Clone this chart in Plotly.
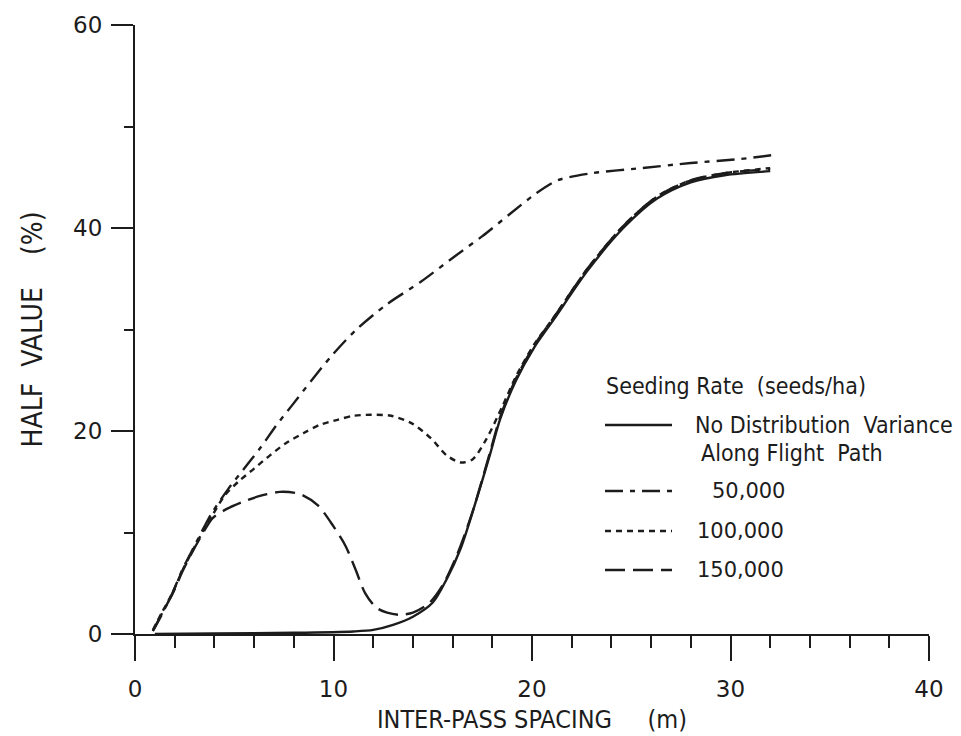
import plotly.graph_objects as go

# ---- data ----
x_novar = [1, 4, 8, 11, 12, 13, 14, 15, 15.7, 16.4, 17.1, 17.9, 18.4, 19.2, 20.1, 21.1, 22.8, 24.6, 26.3, 28.0, 29.7, 32.0]
y_novar = [0.0, 0.05, 0.12, 0.25, 0.4, 0.9, 1.7, 3.1, 5.4, 8.4, 12.6, 17.8, 21.2, 25.0, 28.2, 31.0, 35.8, 40.0, 42.9, 44.5, 45.2, 45.6]

x_50k = [0.9, 1.4, 1.9, 2.4, 2.95, 3.5, 3.9, 4.7, 5.5, 6.3, 7.1, 7.9, 8.9, 9.9, 11.1, 12.7, 14.4, 16.1, 17.5, 18.9, 20.2, 21.3, 23.0, 25.5, 28.0, 30.5, 32.2]
y_50k = [0.3, 2.1, 4.1, 6.4, 8.5, 10.6, 12.0, 14.3, 16.3, 18.3, 20.5, 22.5, 25.0, 27.4, 29.9, 32.5, 34.7, 37.2, 39.2, 41.4, 43.4, 44.7, 45.4, 45.9, 46.4, 46.8, 47.2]

x_100k = [0.9, 1.35, 1.9, 2.4, 2.95, 3.5, 3.9, 4.5, 5.2, 6.0, 6.8, 7.6, 8.5, 9.3, 10.2, 11.0, 11.9, 12.9, 13.9, 14.9, 15.7, 16.4, 17.0, 17.7, 18.5, 19.2, 20.1, 21.1, 22.8, 24.6, 26.3, 28.0, 29.7, 32.0]
y_100k = [0.4, 2.1, 4.1, 6.3, 8.4, 10.4, 11.7, 13.6, 15.0, 16.3, 17.6, 18.8, 19.8, 20.6, 21.1, 21.5, 21.6, 21.5, 20.8, 19.3, 17.6, 16.9, 17.2, 19.2, 22.4, 25.4, 28.5, 31.2, 36.0, 40.2, 43.1, 44.7, 45.4, 45.9]

x_150k = [0.9, 1.35, 1.9, 2.4, 2.95, 3.5, 3.9, 4.6, 5.4, 6.3, 7.3, 8.3, 9.2, 10.0, 10.6, 11.1, 11.6, 12.15, 12.7, 13.3, 14.0, 14.8, 15.5, 16.2, 17.0, 17.9, 18.4, 19.2, 20.1, 21.1, 22.8, 24.6, 26.3, 28.0, 29.7, 32.0]
y_150k = [0.3, 2.0, 4.0, 6.2, 8.3, 10.2, 11.4, 12.3, 13.0, 13.6, 14.0, 13.8, 12.7, 10.6, 8.7, 6.4, 4.0, 2.6, 2.1, 1.9, 2.1, 3.0, 4.8, 7.7, 12.0, 18.0, 21.4, 25.2, 28.4, 31.2, 36.0, 40.2, 43.1, 44.7, 45.4, 45.8]

legend_title = "Seeding Rate  (seeds/ha)"
legend_labels = ["No Distribution  Variance", "50,000", "100,000", "150,000"]
legend_sub = "Along Flight  Path"
x_title = "INTER-PASS SPACING     (m)"
y_title = "HALF  VALUE    (%)"

INK = "#1c1c1c"
COND = "Liberation Sans Narrow, DejaVu Sans Condensed, Roboto Condensed, sans-serif"
WIDE = "DejaVu Sans, Verdana, sans-serif"

styles = {
    "novar": dict(dash="solid"),
    "50k": dict(dash="18px,7px,5px,7px"),
    "100k": dict(dash="6px,5px"),
    "150k": dict(dash="20px,8px"),
}

fig = go.Figure()
for xs, ys, key in [(x_50k, y_50k, "50k"), (x_100k, y_100k, "100k"),
                    (x_150k, y_150k, "150k"), (x_novar, y_novar, "novar")]:
    fig.add_trace(go.Scatter(x=xs, y=ys, mode="lines", showlegend=False,
                             line=dict(color=INK, width=2.4, shape="spline",
                                       smoothing=0.8, **styles[key])))

L, R, T, B = 135, 32, 25, 102
W, H = 961, 736
pw, ph = W - L - R, H - T - B


def px(xp):
    return (xp - L) / pw


def py(yp):
    return (H - B - yp) / ph


# manual legend
ann = []
shapes = []
ann.append(dict(x=px(604), y=py(386), xref="paper", yref="paper", text=legend_title,
                showarrow=False, xanchor="left", yanchor="middle",
                font=dict(family=COND, size=23, color=INK)))
rows = [(425, 693, legend_labels[0], COND, 23, "novar"),
        (491, 710, legend_labels[1], WIDE, 21, "50k"),
        (531, 695, legend_labels[2], WIDE, 21, "100k"),
        (570, 695, legend_labels[3], WIDE, 21, "150k")]
for yy, xt, txt, fam, sz, key in rows:
    shapes.append(dict(type="line", xref="paper", yref="paper",
                       x0=px(605), x1=px(672), y0=py(yy), y1=py(yy),
                       line=dict(color=INK, width=2.4, dash=styles[key]["dash"])))
    ann.append(dict(x=px(xt), y=py(yy), xref="paper", yref="paper", text=txt,
                    showarrow=False, xanchor="left", yanchor="middle",
                    font=dict(family=fam, size=sz, color=INK)))
ann.append(dict(x=px(699), y=py(453), xref="paper", yref="paper", text=legend_sub,
                showarrow=False, xanchor="left", yanchor="middle",
                font=dict(family=COND, size=23, color=INK)))

fig.update_layout(
    width=W, height=H,
    margin=dict(l=L, r=R, t=T, b=B, pad=0),
    paper_bgcolor="white", plot_bgcolor="white",
    showlegend=False,
    annotations=ann, shapes=shapes,
    xaxis=dict(range=[0, 40], tickvals=[0, 10, 20, 30, 40], ticks="outside",
               ticklen=25, tickwidth=2, tickcolor=INK, automargin=False,
               showline=True, linecolor=INK, linewidth=2, showgrid=False,
               zeroline=False, ticklabelstandoff=8,
               tickfont=dict(family=WIDE, size=23, color=INK),
               minor=dict(tickvals=[2, 4, 6, 8, 12, 14, 16, 18, 22, 24, 26, 28, 32, 34, 36, 38],
                          ticks="outside", ticklen=12, tickwidth=2, tickcolor=INK),
               title=dict(text=x_title, standoff=10,
                          font=dict(family=COND, size=25, color=INK))),
    yaxis=dict(range=[0, 60], tickvals=[0, 20, 40, 60], ticks="outside",
               ticklen=22, tickwidth=2, tickcolor=INK, automargin=False,
               showline=True, linecolor=INK, linewidth=2, showgrid=False,
               zeroline=False, ticklabelstandoff=4,
               tickfont=dict(family=WIDE, size=23, color=INK),
               minor=dict(tickvals=[10, 30, 50], ticks="outside", ticklen=9,
                          tickwidth=2, tickcolor=INK),
               title=dict(text=y_title, standoff=22,
                          font=dict(family=COND, size=28, color=INK))),
)

fig.write_html("out.html")
